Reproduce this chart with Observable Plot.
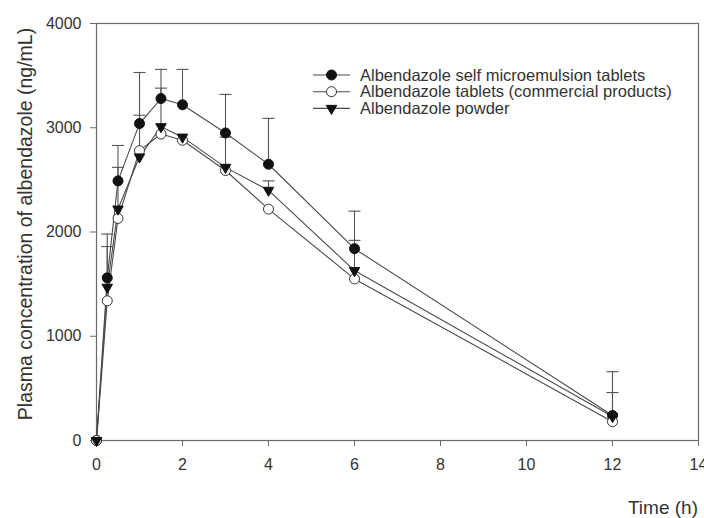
<!DOCTYPE html>
<html>
<head>
<meta charset="utf-8">
<script src="https://cdn.jsdelivr.net/npm/d3@7"></script>
<script src="https://cdn.jsdelivr.net/npm/@observablehq/plot@0.6"></script>
<style>
  html, body { margin: 0; padding: 0; background: #fff; }
  #chart { position: relative; width: 704px; height: 518px; overflow: hidden; }
</style>
</head>
<body>
<div id="chart"></div>
<script>
// ---- data ----
const times = [0, 0.25, 0.5, 1, 1.5, 2, 3, 4, 6, 12];
const seriesNames = [
  "Albendazole self microemulsion tablets",
  "Albendazole tablets (commercial products)",
  "Albendazole powder"
];
const microemulsion = [0, 1560, 2490, 3040, 3280, 3220, 2950, 2650, 1840, 240];
const commercial    = [0, 1340, 2130, 2780, 2940, 2880, 2590, 2220, 1550, 180];
const powder        = [0, 1470, 2220, 2720, 3010, 2910, 2620, 2400, 1630, 230];
const sdMicroemulsion = [null, 420, 340, 490, 280, 340, 370, 440, 360, 420];
const sdPowder        = [null, 390, 400, 400, 370, null, 290, 90, 290, 230];
const xTicks = [0, 2, 4, 6, 8, 10, 12, 14];
const yTicks = [0, 1000, 2000, 3000, 4000];
const xLabel = "Time (h)";
const yLabel = "Plasma concentration of albendazole (ng/mL)";

// ---- build tables ----
const valueSets = [microemulsion, commercial, powder];
const rows = valueSets.flatMap((vals, s) =>
  times.map((t, i) => ({ t, v: vals[i], series: seriesNames[s] })));
const seriesRows = s => rows.filter(d => d.series === seriesNames[s]);
const errRows = [
  ...times.map((t, i) => ({ t, v: microemulsion[i], sd: sdMicroemulsion[i] })),
  ...times.map((t, i) => ({ t, v: powder[i], sd: sdPowder[i] }))
].filter(d => d.sd != null).map(d => ({ ...d, hi: d.v + d.sd }));

// custom symbols
const triangleDown = {
  draw(context, size) {
    const y = -Math.sqrt(size / (Math.sqrt(3) * 3));
    context.moveTo(0, -y * 2);
    context.lineTo(Math.sqrt(3) * y, y);
    context.lineTo(-Math.sqrt(3) * y, y);
    context.closePath();
  }
};
const capSymbol = {
  draw(context, size) {
    const r = Math.sqrt(size / Math.PI);
    context.moveTo(-r, 0);
    context.lineTo(r, 0);
  }
};

const lineColor = "#4a4a4a";
const axisColor = "#6a6a6a";

const plot = Plot.plot({
  width: 704,
  height: 518,
  marginLeft: 96,
  marginRight: 6,
  marginTop: 23,
  marginBottom: 78,
  style: { fontFamily: "'Liberation Sans', Arial, sans-serif", fontSize: "16px", color: "#333", background: "#fff", overflow: "visible" },
  x: { domain: [0, 14] },
  y: { domain: [0, 4000] },
  marks: [
    Plot.axisX({ ticks: xTicks, tickSize: 6, tickPadding: 12, label: null, stroke: axisColor, fill: "#333", tickFormat: d => String(d) }),
    Plot.axisY({ ticks: yTicks, tickSize: 6, tickPadding: 9, label: null, stroke: axisColor, fill: "#333", tickFormat: d => String(d) }),
    Plot.frame({ stroke: axisColor, strokeWidth: 1.2 }),
    Plot.ruleX(errRows, { x: "t", y1: "v", y2: "hi", stroke: "#555", strokeWidth: 1.1 }),
    Plot.dot(errRows, { x: "t", y: "hi", symbol: capSymbol, r: 6, stroke: "#555", strokeWidth: 1.1 }),
    Plot.line(rows, { x: "t", y: "v", z: "series", stroke: lineColor, strokeWidth: 1.1 }),
    Plot.dot(seriesRows(0), { x: "t", y: "v", r: 5, fill: "#111", stroke: "#111", strokeWidth: 1 }),
    Plot.dot(seriesRows(1), { x: "t", y: "v", r: 5, fill: "#fff", stroke: "#333", strokeWidth: 1 }),
    Plot.dot(seriesRows(2), { x: "t", y: "v", r: 3.9, symbol: triangleDown, fill: "#111", stroke: "#111", strokeWidth: 1 })
  ]
});

document.getElementById("chart").appendChild(plot);

// axis titles and in-plot legend
const svg = d3.select(plot);
svg.append("text")
  .attr("transform", "translate(32,224) rotate(-90)")
  .attr("text-anchor", "middle")
  .attr("fill", "#333")
  .style("font-size", "19.5px")
  .text(yLabel);
svg.append("text")
  .attr("x", 698).attr("y", 514)
  .attr("text-anchor", "end")
  .attr("fill", "#333")
  .style("font-size", "19px")
  .text(xLabel);

const legend = svg.append("g");
const legendSymbols = [
  { path: d3.symbol(d3.symbolCircle, Math.PI * 25)(), fill: "#111", stroke: "#111" },
  { path: d3.symbol(d3.symbolCircle, Math.PI * 25)(), fill: "#fff", stroke: "#333" },
  { path: d3.symbol(triangleDown, Math.PI * 3.9 * 3.9)(), fill: "#111", stroke: "#111" }
];
seriesNames.forEach((name, i) => {
  const y = 75 + i * 16.7;
  const g = legend.append("g").attr("transform", `translate(0,${y})`);
  g.append("line").attr("x1", 313).attr("x2", 350).attr("y1", 0).attr("y2", 0)
    .attr("stroke", lineColor).attr("stroke-width", 1.1);
  g.append("path").attr("d", legendSymbols[i].path)
    .attr("transform", "translate(331.5,0)")
    .attr("fill", legendSymbols[i].fill).attr("stroke", legendSymbols[i].stroke);
  g.append("text").attr("x", 360).attr("y", 0).attr("dy", "0.35em")
    .attr("text-anchor", "start")
    .attr("fill", "#333").style("font-size", "16.5px").text(name);
});
</script>
</body>
</html>
